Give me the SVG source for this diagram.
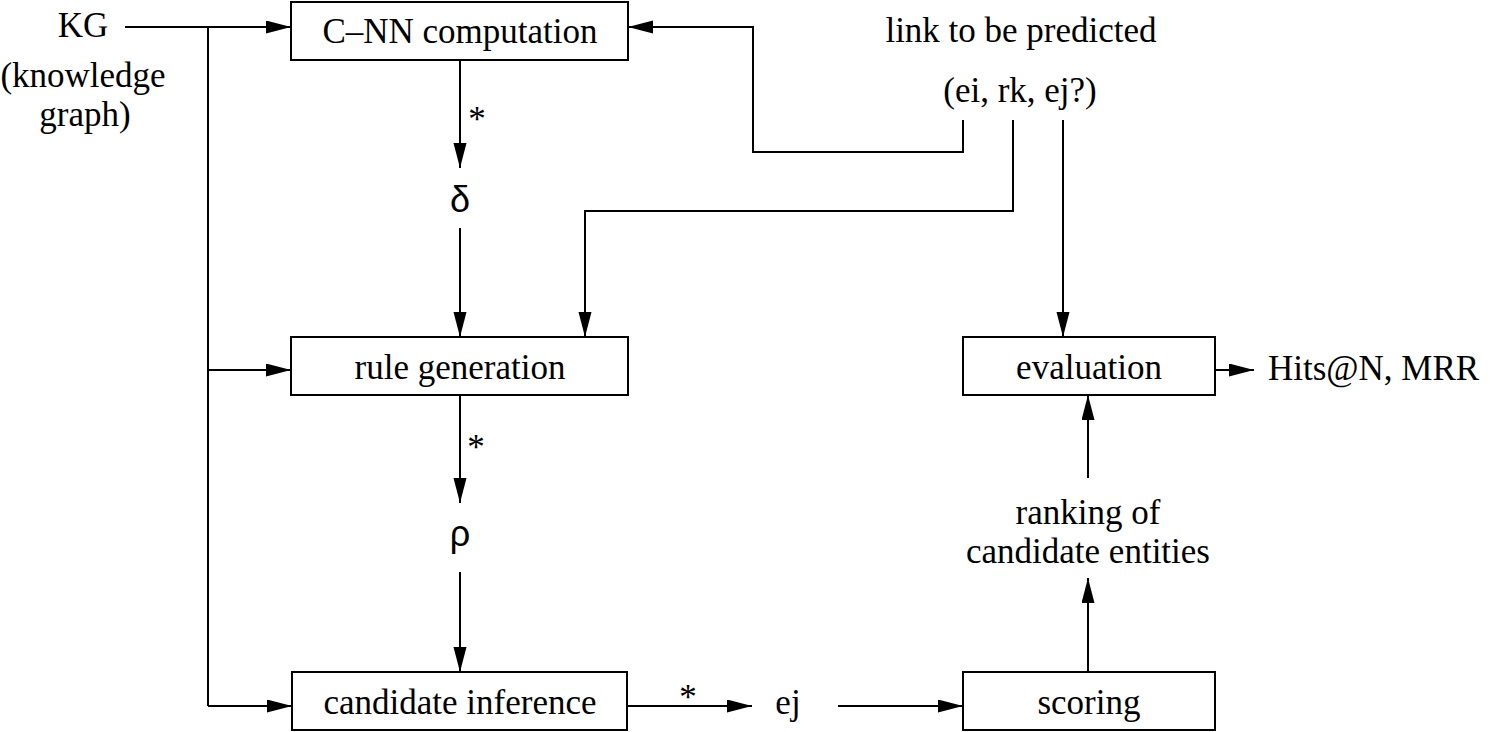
<svg xmlns="http://www.w3.org/2000/svg" width="1490" height="732" viewBox="0 0 1490 732">
<style>
  .box { fill: #fff; stroke: #000; stroke-width: 2; }
  .t { font-family: "Liberation Serif", "Times New Roman", serif; font-size: 35px; fill: #000; }
  .m { text-anchor: middle; }
  .g { font-family: "Liberation Sans", "DejaVu Sans", sans-serif; font-size: 36px; fill: #000; text-anchor: middle; }
  .ln { fill: none; stroke: #000; stroke-width: 2; }
  .arr { marker-end: url(#ah); }
</style>
<defs>
  <marker id="ah" markerUnits="userSpaceOnUse" markerWidth="26" markerHeight="14" refX="25" refY="6.5" orient="auto">
    <path d="M0,0 L25,6.5 L0,13 z" fill="#000"/>
  </marker>
</defs>
<rect width="1490" height="732" fill="#fff"/>

<g id="kg">
  <text class="t m" x="83" y="37">KG</text>
  <text class="t m" x="83" y="87">(knowledge</text>
  <text class="t m" x="85" y="126">graph)</text>
</g>
<g id="link">
  <text class="t m" x="1021" y="42">link to be predicted</text>
  <text class="t m" x="1020" y="102">(ei, rk, ej?)</text>
</g>
<g id="cnn">
  <rect class="box" x="291" y="2" width="337" height="58"/>
  <text class="t m" x="460" y="43">C–NN computation</text>
</g>
<g id="delta"><text class="g" x="460" y="212">δ</text></g>
<g id="rule">
  <rect class="box" x="291" y="337" width="337" height="58"/>
  <text class="t m" x="460" y="379">rule generation</text>
</g>
<g id="rho"><text class="g" x="460" y="546">ρ</text></g>
<g id="cand">
  <rect class="box" x="292" y="672" width="335" height="58"/>
  <text class="t m" x="460" y="714">candidate inference</text>
</g>
<g id="ej"><text class="t m" x="788" y="714">ej</text></g>
<g id="scoring">
  <rect class="box" x="963" y="672" width="252" height="58"/>
  <text class="t m" x="1089" y="714">scoring</text>
</g>
<g id="ranking">
  <text class="t m" x="1088" y="524">ranking of</text>
  <text class="t m" x="1088" y="563">candidate entities</text>
</g>
<g id="evaluation">
  <rect class="box" x="963" y="337" width="252" height="58"/>
  <text class="t m" x="1089" y="379">evaluation</text>
</g>
<g id="metrics"><text class="t" x="1268" y="380">Hits@N, MRR</text></g>

<g id="connectors">
  <path class="ln arr" d="M125,27 H291"/>
  <path class="ln" d="M208,27 V706"/>
  <path class="ln arr" d="M208,370 H291"/>
  <path class="ln arr" d="M208,706 H292"/>
  <path class="ln arr" d="M460,60 V168"/>
  <path class="ln arr" d="M460,228 V337"/>
  <path class="ln arr" d="M460,395 V503"/>
  <path class="ln arr" d="M460,572 V672"/>
  <path class="ln arr" d="M963,120 V152 H753 V27 H628"/>
  <path class="ln arr" d="M1013,120 V211 H585 V337"/>
  <path class="ln arr" d="M1063,120 V337"/>
  <path class="ln arr" d="M627,706 H752"/>
  <path class="ln arr" d="M838,706 H963"/>
  <path class="ln arr" d="M1088,672 V578"/>
  <path class="ln arr" d="M1088,478 V395"/>
  <path class="ln arr" d="M1215,370 H1254"/>
  <text class="t m" x="477" y="131">*</text>
  <text class="t m" x="476" y="459">*</text>
  <text class="t m" x="688" y="709">*</text>
</g>
</svg>
